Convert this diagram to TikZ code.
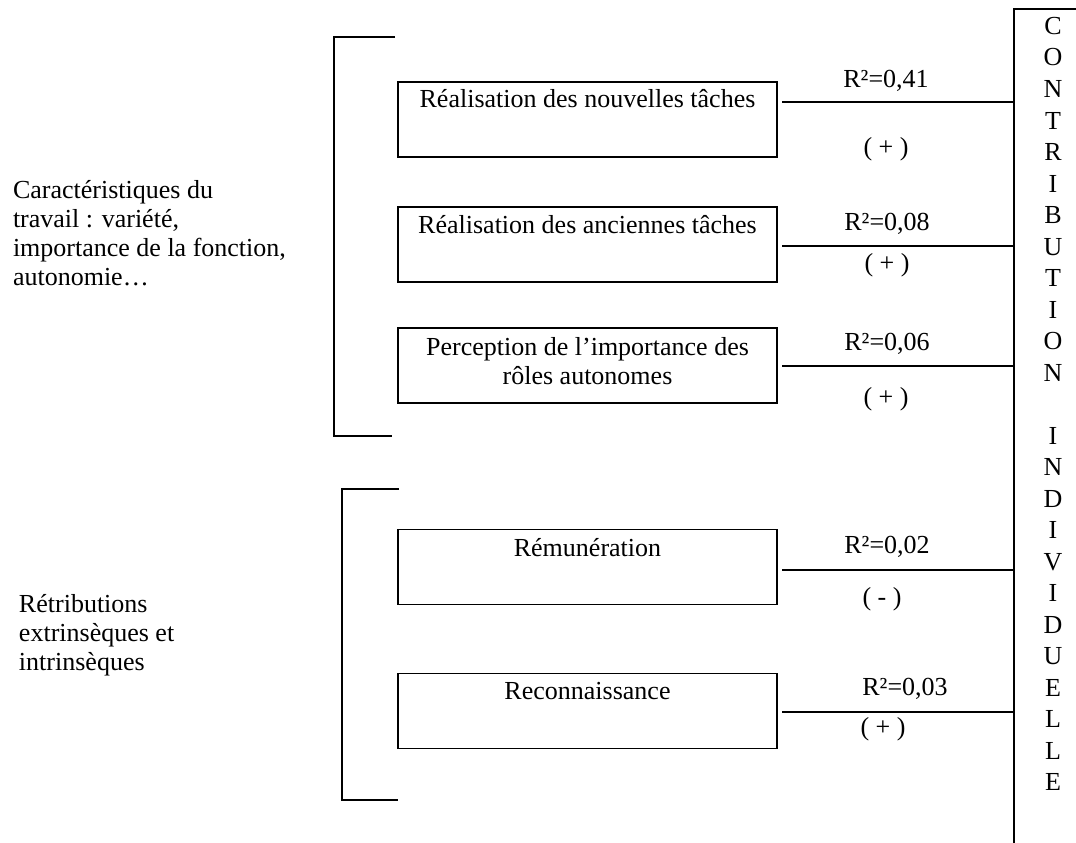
\documentclass[tikz,border=0pt]{standalone}
\usepackage{fontspec}
\setmainfont{Liberation Serif}
\begin{document}
\begin{tikzpicture}[x=1pt,y=-1pt,
  every node/.style={font=\fontsize{26}{29.5}\selectfont, inner sep=0pt, outer sep=0pt},
  facteur/.style={draw, line width=1.6pt, minimum width=379pt, minimum height=75pt},
  lien/.style={line width=1.6pt},
  cadre/.style={line width=1.8pt},
  txt/.style={anchor=base},
  gauche/.style={anchor=base west},
]
\useasboundingbox (0,0) rectangle (1076,843);

% factor boxes
\node[facteur] (b1) at (587.5,119.5) {};
\node[facteur] (b2) at (587.5,244.5) {};
\node[facteur] (b3) at (587.5,365.5) {};
\node[facteur] (b4) at (587.5,567) {};
\node[facteur] (b5) at (587.5,711) {};

\node[txt] (t1) at (587.5,107) {Réalisation des nouvelles tâches};
\node[txt] (t2) at (587.5,233) {Réalisation des anciennes tâches};
\node[txt] (t3a) at (587.5,355) {Perception de l’importance des};
\node[txt] (t3b) at (587.5,384) {rôles autonomes};
\node[txt] (t4) at (587.5,556) {Rémunération};
\node[txt] (t5) at (587.5,699) {Reconnaissance};

% right frame
\coordinate (cb) at (1014,9);
\coordinate (cbr) at (1080,9);
\coordinate (cbb) at (1014,846);
\draw[cadre] (cbr) -- (cb) -- (cbb);

\foreach \l [count=\i from 0] in {C,O,N,T,R,I,B,U,T,I,O,N}
  \node[txt] (va\i) at (1053,{34.5+31.5*\i}) {\l};
\foreach \l [count=\i from 13] in {I,N,D,I,V,I,D,U,E,L,L,E}
  \node[txt] (vb\i) at (1053,{34.5+31.5*\i}) {\l};

% connectors
\coordinate (p1) at (782,102);
\coordinate (p2) at (782,246);
\coordinate (p3) at (782,366);
\coordinate (p4) at (782,570);
\coordinate (p5) at (782,712);
\draw[lien] (p1) -- (p1 -| cb);
\draw[lien] (p2) -- (p2 -| cb);
\draw[lien] (p3) -- (p3 -| cb);
\draw[lien] (p4) -- (p4 -| cb);
\draw[lien] (p5) -- (p5 -| cb);

\node[txt] (r1) at (886,87) {R²=0,41};
\node[txt] (r2) at (887,230) {R²=0,08};
\node[txt] (r3) at (887,350) {R²=0,06};
\node[txt] (r4) at (887,553) {R²=0,02};
\node[txt] (r5) at (905,695) {R²=0,03};

\node[txt] (s1) at (886,155) {( + )};
\node[txt] (s2) at (887,271) {( + )};
\node[txt] (s3) at (886,405) {( + )};
\node[txt] (s4) at (882,605) {( - )};
\node[txt] (s5) at (883,735) {( + )};

% brackets
\draw[cadre] (395,37) -- (334,37) -- (334,436) -- (392,436);
\draw[cadre] (399,489) -- (342,489) -- (342,800) -- (398,800);

% left texts
\node[gauche] (g1) at (13,198) {Caractéristiques du};
\node[gauche] (g2) at (13,227) {travail : variété,};
\node[gauche] (g3) at (13,256) {importance de la fonction,};
\node[gauche] (g4) at (13,285) {autonomie…};

\node[gauche] (h1) at (19,612) {Rétributions};
\node[gauche] (h2) at (19,641) {extrinsèques et};
\node[gauche] (h3) at (19,670) {intrinsèques};
\end{tikzpicture}
\end{document}
